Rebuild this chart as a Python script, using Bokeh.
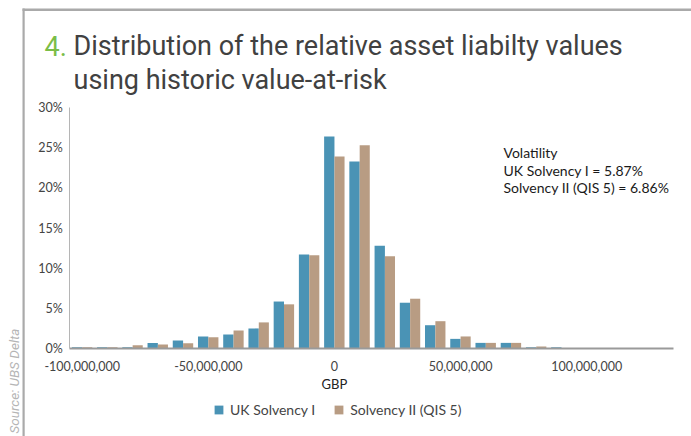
import math
from bokeh.plotting import figure
from bokeh.models import (Range1d, FixedTicker, NumeralTickFormatter, PrintfTickFormatter,
                          Label, Legend, LegendItem, BoxAnnotation, ColumnDataSource)
from bokeh.transform import dodge
from bokeh.embed import file_html
from bokeh.resources import INLINE

# ---------------- data ----------------
bin_centers_gbp = [-100000000, -90000000, -80000000, -70000000, -60000000, -50000000,
                   -40000000, -30000000, -20000000, -10000000, 0, 10000000, 20000000,
                   30000000, 40000000, 50000000, 60000000, 70000000, 80000000, 90000000]
uk_solvency_1 = [0.15, 0.15, 0.15, 0.7, 1.0, 1.5, 1.75, 2.5, 5.85, 11.7,
                 26.4, 23.3, 12.8, 5.7, 2.9, 1.2, 0.7, 0.7, 0.15, 0.15]
solvency_2_qis5 = [0.15, 0.15, 0.4, 0.5, 0.65, 1.4, 2.25, 3.25, 5.5, 11.6,
                   23.9, 25.3, 11.5, 6.2, 3.4, 1.5, 0.7, 0.7, 0.25, 0.0]
series_names = ["UK Solvency I", "Solvency II (QIS 5)"]
x_tick_values = [-100000000, -50000000, 0, 50000000, 100000000]
y_tick_values = [0, 5, 10, 15, 20, 25, 30]
title_number = "4."
title_lines = ["Distribution of the relative asset liabilty values",
               "using historic value-at-risk"]
note_lines = ["Volatility", "UK Solvency I = 5.87%", "Solvency II (QIS 5) = 6.86%"]
source_text = "Source: UBS Delta"
x_axis_label = "GBP"

# ---------------- layout ----------------
W, H = 691, 436
BLUE = "#4a93b5"
TAN = "#b89c83"

# pixel <-> data mapping (frame covers the whole canvas)
PX_PER_M = 2.5226          # px per 1,000,000 GBP
X_REF_PX = 81.7            # pixel of the -100,000,000 bin centre
Y0_PX = 348.0              # pixel of 0 %
PX_PER_PCT = 8.03


def dx(px):
    return -100e6 + (px - X_REF_PX) / PX_PER_M * 1e6


def dy(py):
    return (Y0_PX - py) / PX_PER_PCT


def sx(px):
    return px


def sy(py):
    return H - py


x_lo, x_hi = dx(69.3), dx(673)

p = figure(width=W, height=H, output_backend="svg", toolbar_location=None, title=None,
           x_range=Range1d(dx(0), dx(W)), y_range=Range1d(dy(H), dy(0)), min_border=0)
p.outline_line_color = None
p.grid.visible = False
p.background_fill_color = "white"
p.border_fill_color = "white"

src = ColumnDataSource(dict(x=bin_centers_gbp, a=uk_solvency_1, b=solvency_2_qis5))
r1 = p.vbar(x=dodge("x", -2.05e6), top="a", width=4.1e6, source=src,
            fill_color=BLUE, line_color=None)
r2 = p.vbar(x=dodge("x", 2.0e6), top="b", width=4.0e6, source=src,
            fill_color=TAN, line_color=None)

# axes, drawn inside the full-canvas frame
xa = p.xaxis[0]
xa.fixed_location = 0
xa.bounds = (x_lo, x_hi)
xa.ticker = FixedTicker(ticks=x_tick_values)
xa.formatter = NumeralTickFormatter(format="0,0")
xa.axis_line_color = "#9a9a9a"
xa.axis_line_width = 2
xa.major_tick_line_color = None
xa.minor_tick_line_color = None
xa.major_tick_in = 0
xa.major_tick_out = 0
xa.major_label_standoff = 12
xa.major_label_text_font = "Lato"
xa.major_label_text_font_size = "12.5px"
xa.major_label_text_color = "#444444"

ya = p.yaxis[0]
ya.fixed_location = x_lo
ya.bounds = (0, 30)
ya.ticker = FixedTicker(ticks=y_tick_values)
ya.formatter = PrintfTickFormatter(format="%d%%")
ya.axis_line_color = "#b5b5b5"
ya.axis_line_width = 1
ya.major_tick_line_color = None
ya.minor_tick_line_color = None
ya.major_tick_in = 0
ya.major_tick_out = 0
ya.major_label_standoff = 7
ya.major_label_text_font = "Lato"
ya.major_label_text_font_size = "12.5px"
ya.major_label_text_color = "#444444"

# x axis title
p.add_layout(Label(x=0, y=sy(383), x_units="data", y_units="screen", text=x_axis_label,
                   text_font="Lato", text_font_size="13px", text_color="#222222",
                   text_baseline="middle", text_align="center"))

# legend
legend = Legend(items=[LegendItem(label=series_names[0], renderers=[r1]),
                       LegendItem(label=series_names[1], renderers=[r2])],
                orientation="horizontal", location=(sx(213), sy(418)),
                glyph_width=11, glyph_height=11, label_standoff=6, spacing=18,
                padding=0, margin=0, border_line_color=None, background_fill_alpha=0,
                label_text_font="Lato", label_text_font_size="14px",
                label_text_color="#444444", label_height=14)
p.add_layout(legend)

# frame lines (grey border)
for l, r, t, b in [(22, 700, 8, 10.5), (22, 24.2, 8, 450)]:
    p.add_layout(BoxAnnotation(left=sx(l), right=sx(r), top=sy(t), bottom=sy(b),
                               left_units="screen", right_units="screen",
                               top_units="screen", bottom_units="screen",
                               fill_color="#aaaaaa", fill_alpha=1, line_color=None,
                               level="underlay"))

# title
p.add_layout(Label(x=sx(44), y=sy(45), x_units="screen", y_units="screen", text=title_number,
                   text_font="Roboto", text_font_size="27px", text_color="#7bbd47",
                   text_baseline="alphabetic", text_align="left"))
for i, line in enumerate(title_lines):
    p.add_layout(Label(x=sx(73), y=sy(45 + 34 * i), x_units="screen", y_units="screen",
                       text=line, text_font="Roboto", text_font_size="27px",
                       text_color="#414141", text_baseline="alphabetic", text_align="left"))

# volatility note
for i, line in enumerate(note_lines):
    p.add_layout(Label(x=sx(503), y=sy(152 + 17.5 * i), x_units="screen", y_units="screen",
                       text=line, text_font="Lato", text_font_size="14px",
                       text_color="#1a1a1a", text_baseline="alphabetic", text_align="left"))

# source
p.add_layout(Label(x=sx(13.5), y=sy(433), x_units="screen", y_units="screen",
                   text=source_text, angle=math.pi / 2, text_font="Roboto",
                   text_font_style="italic", text_font_size="13.5px", text_color="#b5b5b5",
                   text_baseline="middle", text_align="left"))

open("out.html", "w").write(file_html(p, INLINE))
